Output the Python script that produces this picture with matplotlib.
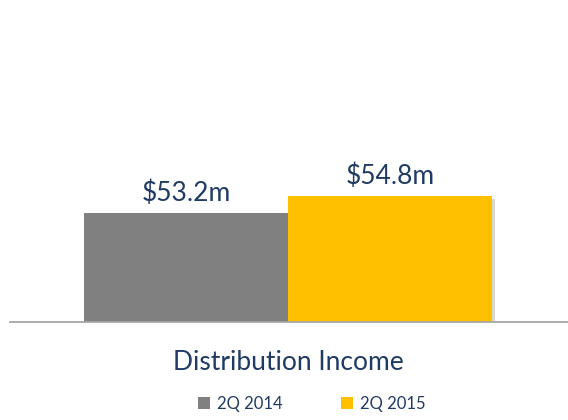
import matplotlib
matplotlib.use("Agg")
import matplotlib.pyplot as plt
import matplotlib.patheffects as pe

# data
series = ["2Q 2014", "2Q 2015"]
values = [53.2, 54.8]
labels = ["$53.2m", "$54.8m"]
colors = ["#808080", "#FFC000"]
category = "Distribution Income"

navy = "#1F3B63"
plt.rcParams["font.family"] = ["Lato", "DejaVu Sans"]

fig = plt.figure(figsize=(5.68, 4.2), dpi=100)
ax = fig.add_axes([10 / 568, 98 / 420, 558 / 568, 302 / 420])

xs = [0, 1]
bars = ax.bar(xs, values, width=1.0, bottom=0, color=colors, label=series,
              path_effects=[pe.SimplePatchShadow(offset=(2, -2), alpha=0.2), pe.Normal()])

for b, txt in zip(bars, labels):
    ax.annotate(txt, (b.get_x() + b.get_width() / 2, b.get_height()),
                xytext=(0, 5), textcoords="offset points",
                ha="center", va="bottom", fontsize=19, color=navy)

ax.set_xlim(-0.863, 1.873)
ax.set_ylim(42.94, 42.94 + 302 / 10.625)
for s in ["top", "right", "left"]:
    ax.spines[s].set_visible(False)
ax.spines["bottom"].set_color("#A6A6A6")
ax.spines["bottom"].set_linewidth(1.3)
ax.set_yticks([])
ax.set_xticks([])

fig.text(288 / 568, 1 - 363 / 420, category, ha="center", va="center",
         fontsize=19, color=navy)

leg = fig.legend(handles=bars, labels=series, loc="center",
                 bbox_to_anchor=(312 / 568, 1 - 404 / 420), ncol=2,
                 frameon=False, fontsize=12, handlelength=0.72, handleheight=0.72,
                 handletextpad=0.42, columnspacing=3.5, labelcolor=navy)
for h in leg.legend_handles:
    h.set_path_effects([])

fig.savefig("out.png", dpi=100)
